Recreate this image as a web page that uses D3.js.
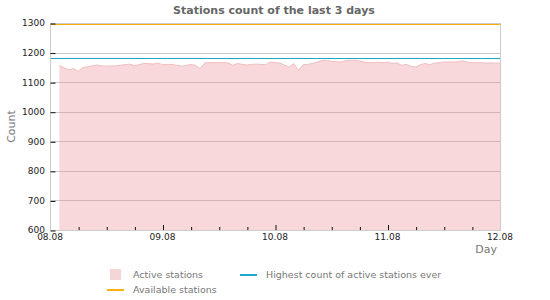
<!DOCTYPE html>
<html>
<head>
<meta charset="utf-8">
<script src="https://cdn.jsdelivr.net/npm/d3@7"></script>
<style>
  body { margin: 0; background: #fff; }
  text { font-family: "DejaVu Sans", Verdana, sans-serif; }
</style>
</head>
<body>
<div id="chart"></div>
<script>
// data (hourly samples, 08.08 02:00 .. 12.08 00:00)
const startTime = new Date(2023, 7, 8, 2, 0);
const activeStations = [
    1157, 1148, 1142, 1146, 1137, 1149, 1152, 1155, 1158, 1155, 1154, 1155,
    1155, 1157, 1159, 1161, 1156, 1159, 1163, 1163, 1161, 1165, 1159, 1160,
    1160, 1157, 1154, 1156, 1160, 1157, 1146, 1165, 1166, 1166, 1166, 1166,
    1165, 1157, 1163, 1160, 1158, 1160, 1161, 1160, 1159, 1168, 1166, 1165,
    1158, 1151, 1163, 1140, 1159, 1160, 1163, 1168, 1173, 1174, 1170, 1169,
    1168, 1172, 1174, 1174, 1172, 1168, 1166, 1166, 1167, 1166, 1167, 1163,
    1165, 1157, 1160, 1154, 1151, 1159, 1163, 1159, 1164, 1166, 1168, 1168,
    1168, 1169, 1172, 1168, 1165, 1166, 1166, 1164, 1165, 1164, 1164
];
const highestEver = 1182;
const availableStations = 1295;
const yTicks = [600, 700, 800, 900, 1000, 1100, 1200, 1300];
const dayTicks = [new Date(2023, 7, 8), new Date(2023, 7, 9), new Date(2023, 7, 10),
                  new Date(2023, 7, 11), new Date(2023, 7, 12)];
const legendItems = [
    { label: "Active stations", type: "area", color: "#f5d6d7" },
    { label: "Highest count of active stations ever", type: "line", color: "#1ea8c8" },
    { label: "Available stations", type: "line", color: "#fbb010" }
];

const series = activeStations.map((v, i) => ({ t: d3.timeHour.offset(startTime, i), v: v }));

const margin = { top: 23, right: 50, bottom: 70, left: 50 };
const width = 550 - margin.left - margin.right;
const height = 300 - margin.top - margin.bottom;

const svg = d3.select("#chart").append("svg")
    .attr("width", 550)
    .attr("height", 300);

// title
svg.append("text")
    .attr("x", 274)
    .attr("y", 14)
    .attr("text-anchor", "middle")
    .style("font-weight", "bold")
    .style("font-size", "11px")
    .attr("fill", "#666")
    .text("Stations count of the last 3 days");

const g = svg.append("g")
    .attr("transform", "translate(" + margin.left + "," + margin.top + ")");

const x = d3.scaleTime()
    .domain([dayTicks[0], dayTicks[dayTicks.length - 1]])
    .range([0, width]);

const y = d3.scaleLinear()
    .domain([600, 1300])
    .range([height, 0]);

// grid
g.selectAll(".grid")
    .data(yTicks.slice(1, -1))
    .enter()
    .append("line")
    .attr("class", "grid")
    .attr("x1", 0)
    .attr("x2", width)
    .attr("y1", d => Math.round(y(d)) + 0.5)
    .attr("y2", d => Math.round(y(d)) + 0.5)
    .attr("stroke", "#c8c8c8");

// active stations area
const area = d3.area()
    .x(d => x(d.t))
    .y0(height)
    .y1(d => y(d.v));

g.append("path")
    .datum(series)
    .attr("d", area)
    .attr("fill", "#e98a90")
    .attr("fill-opacity", 0.33);

g.append("path")
    .datum(series)
    .attr("d", d3.line().x(d => x(d.t)).y(d => y(d.v)))
    .attr("fill", "none")
    .attr("stroke", "#efbfc1")
    .attr("stroke-width", 1);

// reference lines
g.append("line")
    .attr("x1", 0).attr("x2", width)
    .attr("y1", Math.round(y(highestEver)) + 0.5).attr("y2", Math.round(y(highestEver)) + 0.5)
    .attr("stroke", legendItems[1].color)
    .attr("stroke-width", 1.2);

g.append("line")
    .attr("x1", 0).attr("x2", width)
    .attr("y1", Math.round(y(availableStations)) + 0.5).attr("y2", Math.round(y(availableStations)) + 0.5)
    .attr("stroke", legendItems[2].color)
    .attr("stroke-width", 1.2);

// frame
g.append("rect")
    .attr("x", 0.5)
    .attr("y", 0.5)
    .attr("width", width)
    .attr("height", height)
    .attr("fill", "none")
    .attr("stroke", "#cccccc");

// y axis (ticks inside)
const yAxis = g.append("g")
    .call(d3.axisRight(y).tickValues(yTicks).tickSize(5).tickFormat(d3.format("d")));
yAxis.select(".domain").remove();
yAxis.selectAll("line").attr("stroke", "#111").attr("transform", "translate(0.5,0.5)");
yAxis.selectAll("text")
    .attr("x", -5)
    .attr("text-anchor", "end")
    .attr("fill", "#222")
    .style("font-size", "9px")
    .style("font-family", "DejaVu Sans");

// x axis: minor ticks every 6 hours
const minorTicks = d3.timeHour.every(6).range(dayTicks[0], dayTicks[dayTicks.length - 1])
    .filter(d => d.getHours() !== 0);
g.append("g")
    .attr("transform", "translate(0," + height + ")")
    .call(d3.axisTop(x).tickValues(minorTicks).tickSize(3).tickFormat(""))
    .call(a => a.select(".domain").remove())
    .selectAll("line").attr("stroke", "#111").attr("transform", "translate(0.5,0)");

const xAxis = g.append("g")
    .attr("transform", "translate(0," + height + ")")
    .call(d3.axisTop(x).tickValues(dayTicks.slice(1, -1)).tickSize(5).tickFormat(""));
xAxis.select(".domain").remove();
xAxis.selectAll("line").attr("stroke", "#111").attr("transform", "translate(0.5,0)");

g.selectAll(".xlabel")
    .data(dayTicks)
    .enter()
    .append("text")
    .attr("class", "xlabel")
    .attr("x", d => x(d))
    .attr("y", height + 10)
    .attr("text-anchor", "middle")
    .attr("fill", "#222")
    .style("font-size", "9px")
    .text(d3.timeFormat("%d.%m"));

// axis titles
g.append("text")
    .attr("transform", "rotate(-90)")
    .attr("x", -height / 2)
    .attr("y", -35)
    .attr("text-anchor", "middle")
    .attr("fill", "#777")
    .style("font-size", "11px")
    .text("Count");

g.append("text")
    .attr("x", width - 3)
    .attr("y", height + 23)
    .attr("text-anchor", "end")
    .attr("fill", "#777")
    .style("font-size", "11px")
    .text("Day");

// legend
const legendPos = [[107, 275], [240, 275], [107, 290]];
legendItems.forEach((item, i) => {
    const lg = svg.append("g")
        .attr("transform", "translate(" + legendPos[i][0] + "," + legendPos[i][1] + ")");
    if (item.type === "area") {
        lg.append("rect")
            .attr("x", 3).attr("y", -6)
            .attr("width", 11).attr("height", 11)
            .attr("fill", item.color);
    } else {
        lg.append("line")
            .attr("x1", 0).attr("x2", 17)
            .attr("stroke", item.color)
            .attr("stroke-width", 2);
    }
    lg.append("text")
        .attr("x", 26)
        .attr("y", 3)
        .attr("fill", "#777")
        .style("font-size", "9.5px")
        .text(item.label);
});
</script>
</body>
</html>
